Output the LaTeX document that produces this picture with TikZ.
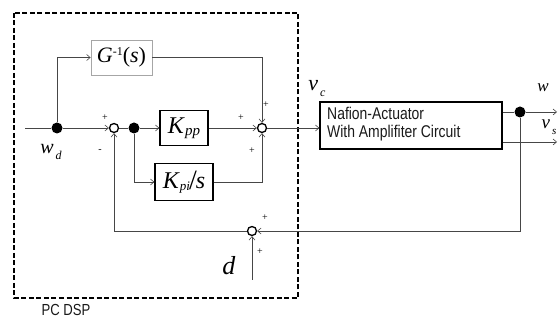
\documentclass[tikz,border=0pt]{standalone}
\usepackage{fontspec}
\setmainfont{Liberation Serif}
\setsansfont{Liberation Sans}
\usepackage{graphicx}
\usetikzlibrary{arrows.meta, positioning}

\newcommand{\fs}[1]{\fontsize{#1}{#1}\selectfont}
\newcommand{\narrow}[1]{\scalebox{0.82}[1]{#1}}

\tikzset{
  wire/.style={draw=gray!55!black, line width=0.6pt},
  sig/.style={wire, -{Straight Barb[length=3.5pt, width=6pt]}},
  sumjct/.style={circle, draw, line width=1.3pt, minimum size=9pt, inner sep=0pt},
  tap/.style={circle, fill, minimum size=11pt, inner sep=0pt},
  blk/.style={draw, line width=1.2pt, inner sep=0pt},
  pm/.style={font=\fs{10}},
}

\begin{document}
\begin{tikzpicture}[x=1pt, y=-1pt]
  \useasboundingbox (0,0) rectangle (558,320);
  % controller frame
  \draw[line width=1.4pt, dash pattern=on 5pt off 2.5pt] (14,13) rectangle (298,298);
  \node[font=\sffamily\fs{16}, gray!20!black] (dsp) at (66,310) {\narrow{PC DSP}};

  % blocks
  \node[blk, draw=gray!70, line width=0.8pt, minimum width=61pt, minimum height=35pt] (G) at (121.5,57.5)
    {\fs{22}\textit{G}\raisebox{7pt}{\fs{12}-1}(\textit{s})};
  \node[blk, minimum width=48pt, minimum height=35pt] (Kpp) at (184,128)
    {\fs{24}\textit{K}\raisebox{-2pt}{\fs{15}\textit{pp}}};
  \node[blk, minimum width=58pt, minimum height=37pt] (Kpi) at (184,182)
    {\fs{24}\textit{K}\raisebox{-2pt}{\fs{13}\textit{pi}}\kern-1pt\raisebox{-1pt}{\fs{28}/}\kern-1pt\textit{s}};
  \node[blk, minimum width=182pt, minimum height=47pt] (plant) at (411,125.5) {};
  \node[font=\sffamily\fs{17}, align=left, anchor=west, inner sep=0pt, gray!20!black] (ptxt) at (327,124)
    {\narrow{Nafion-Actuator}\\[1pt]\narrow{With Amplifiter Circuit}};

  % junctions
  \coordinate (in) at (25,128);
  \node[tap] (dwd) at (57,128) {};
  \node[sumjct] (s1) at (114,128) {};
  \node[tap] (d2) at (134,128) {};
  \node[sumjct] (s2) at (262,128) {};
  \node[tap] (dw) at (520,112) {};
  \node[sumjct] (s3) at (252,231) {};
  \coordinate (din) at (252,280);
  \coordinate (wout) at (557,112);
  \coordinate (vsout) at (557,142);

  % connectors
  \draw[wire] (in) -- (dwd);
  \draw[sig] (dwd) -- (s1);
  \draw[sig] (dwd) |- (G);
  \draw[sig] (G) -| (s2);
  \draw[wire] (s1) -- (d2);
  \draw[sig] (d2) -- (Kpp);
  \draw[sig] (Kpp) -- (s2);
  \draw[sig] (d2) |- (Kpi);
  \draw[sig] (Kpi) -| (s2);
  \draw[sig] (s2) -- (plant.west |- s2);
  \draw[wire] (plant.east |- dw) -- (dw);
  \draw[sig] (dw) -- (wout);
  \draw[sig] (plant.east |- vsout) -- (vsout);
  \draw[sig] (dw) |- (s3);
  \draw[sig] (s3) -| (s1);
  \draw[sig] (din) -- (s3);

  % signal labels
  \node (lwd) at (51,152) {\fs{20}\textit{w}\kern2pt\raisebox{-6pt}{\fs{12}\textit{d}}};
  \node (lvc) at (317,89) {\fs{22}\textit{v}\kern2pt\raisebox{-6pt}{\fs{12}\textit{c}}};
  \node (lw) at (543,88) {\fs{17}\textit{w}};
  \node (lvs) at (549,127) {\fs{19}\textit{v}\kern2pt\raisebox{-6pt}{\fs{11}\textit{s}}};
  \node (ld) at (229,266) {\fs{26}\textit{d}};

  % signs
  \node[pm] at (105,118) {+};
  \node[pm] at (100,151) {-};
  \node[pm] at (241,118) {+};
  \node[pm] at (266,105) {+};
  \node[pm] at (252,151) {+};
  \node[pm] at (265,218) {+};
  \node[pm] at (260,252) {+};
\end{tikzpicture}
\end{document}
